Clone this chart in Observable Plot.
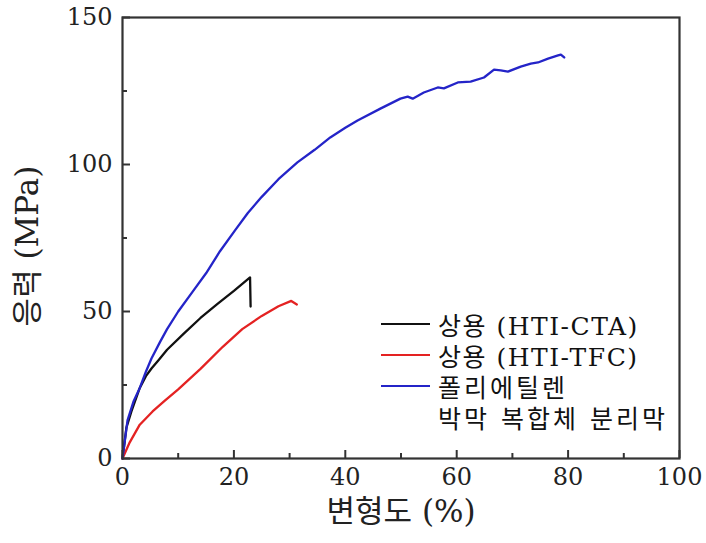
<!DOCTYPE html>
<html>
<head>
<meta charset="utf-8">
<script src="https://cdn.jsdelivr.net/npm/d3@7"></script>
<script src="https://cdn.jsdelivr.net/npm/@observablehq/plot@0.6"></script>
<style>
  html, body { margin: 0; padding: 0; background: #fff; }
  #wrap { position: relative; width: 706px; height: 543px; }
  #legend { position: absolute; left: 381px; top: 308px; font-family: "DejaVu Serif", "Noto Sans CJK KR", serif; font-size: 25px; color: #111; }
  .row { display: flex; align-items: center; height: 31px; white-space: nowrap; letter-spacing: 1.5px; }
  .row.kr { letter-spacing: 3px; }
  .sw { width: 49px; height: 0; border-top: 2px solid; margin-right: 8px; }
  .pad { width: 57px; }
</style>
</head>
<body>
<div id="wrap"></div>
<script>
// ---- data ----
const seriesNames = ["상용 (HTI-CTA)", "상용 (HTI-TFC)", "폴리에틸렌 박막 복합체 분리막"];
const seriesColors = ["#111111", "#e42222", "#2424c8"];

const strainCTA = [0, 0.7, 1.6, 3.1, 4.2, 5.2, 6.5, 8, 11, 14, 17, 20, 22.9, 23.0];
const stressCTA = [0, 10.5, 16, 24, 28, 30.6, 33.5, 37, 42.5, 47.8, 52.5, 57, 61.6, 51.7];

const strainTFC = [0, 1.3, 3.1, 5.4, 7.5, 10, 14, 18, 21.5, 25, 28, 30.3, 31.3];
const stressTFC = [0, 5.5, 11.5, 16, 19.5, 23.5, 30.5, 38, 44, 48.5, 51.8, 53.6, 52.4];

const strainPE = [0, 0.9, 2, 3.1, 4.2, 5.2, 6.7, 8, 10, 12.5, 15, 17.5, 20.2, 22.5, 25, 28, 31.4, 34.5, 37.3, 40, 42.2, 46.3, 49.9, 51.2, 52.1, 54.1, 56.6, 57.7, 60.2, 62.5, 64.9, 66.7, 67.9, 69.2, 71.5, 73.3, 74.6, 76.4, 78.2, 78.7, 79.3];
const stressPE = [0, 13, 19.5, 24, 29.5, 34, 39.5, 44, 50, 56.5, 63, 70.5, 77.6, 83.5, 89, 95, 100.7, 105, 109.2, 112.5, 115, 119, 122.4, 123.1, 122.4, 124.5, 126.2, 125.9, 127.9, 128.2, 129.6, 132.3, 132, 131.6, 133.3, 134.3, 134.7, 136, 137.1, 137.4, 136.4];

const xMajor = [0, 20, 40, 60, 80, 100];
const xMinor = [10, 30, 50, 70, 90];
const yMajor = [0, 50, 100, 150];
const yMinor = [25, 75, 125];
const xTitle = "변형도 (%)";
const yTitle = "응력 (MPa)";

// ---- table ----
const rows = [];
[[strainCTA, stressCTA], [strainTFC, stressTFC], [strainPE, stressPE]].forEach(([xs, ys], i) => {
  xs.forEach((x, j) => rows.push({series: seriesNames[i], strain: x, stress: ys[j]}));
});

const W = 706, H = 543;
const mL = 122, mR = 27, mT = 17, mB = 85;
const pw = W - mL - mR, ph = H - mT - mB;
const serif = "'DejaVu Serif', 'Noto Sans CJK KR', serif";

const chart = Plot.plot({
  width: W, height: H,
  marginLeft: mL, marginRight: mR, marginTop: mT, marginBottom: mB,
  style: {fontFamily: serif, background: "#fff", overflow: "visible"},
  x: {domain: [0, 100], label: null},
  y: {domain: [0, 150], label: null},
  color: {domain: seriesNames, range: seriesColors},
  marks: [
    Plot.axisX(xMajor, {tickSize: 0, tickPadding: 9, fontSize: 24, fill: "#222", tickFormat: d => String(d)}),
    Plot.axisY(yMajor, {tickSize: 0, tickPadding: 10, fontSize: 24, fill: "#222", tickFormat: d => String(d)}),
    Plot.ruleX(xMajor, {stroke: "#333", strokeWidth: 2, insetTop: ph - 8}),
    Plot.ruleX(xMinor, {stroke: "#333", strokeWidth: 2, insetTop: ph - 5}),
    Plot.ruleY(yMajor, {stroke: "#333", strokeWidth: 2, insetRight: pw - 8}),
    Plot.ruleY(yMinor, {stroke: "#333", strokeWidth: 2, insetRight: pw - 5}),
    Plot.line(rows, {x: "strain", y: "stress", z: "series", stroke: "series", strokeWidth: 2.3, strokeLinejoin: "round"}),
    Plot.frame({stroke: "#333", strokeWidth: 2.2}),
    Plot.text([xTitle], {frameAnchor: "bottom", dy: 63, fontSize: 31, fill: "#222", text: d => d}),
    Plot.text([yTitle], {frameAnchor: "left", textAnchor: "middle", dx: -94, dy: 8, rotate: -90, fontSize: 31, fill: "#222", text: d => d})
  ]
});

const wrap = document.getElementById("wrap");
wrap.appendChild(chart);

// legend overlay
const legend = document.createElement("div");
legend.id = "legend";
const legendRows = [
  {sw: seriesColors[0], text: "상용 (HTI-CTA)", kr: false},
  {sw: seriesColors[1], text: "상용 (HTI-TFC)", kr: false},
  {sw: seriesColors[2], text: "폴리에틸렌", kr: true},
  {sw: null, text: "박막 복합체 분리막", kr: true}
];
legendRows.forEach(r => {
  const row = document.createElement("div");
  row.className = r.kr ? "row kr" : "row";
  const s = document.createElement("div");
  if (r.sw) { s.className = "sw"; s.style.borderTopColor = r.sw; }
  else s.className = "pad";
  row.appendChild(s);
  const t = document.createElement("span");
  t.textContent = r.text;
  row.appendChild(t);
  legend.appendChild(row);
});
wrap.appendChild(legend);
</script>
</body>
</html>
